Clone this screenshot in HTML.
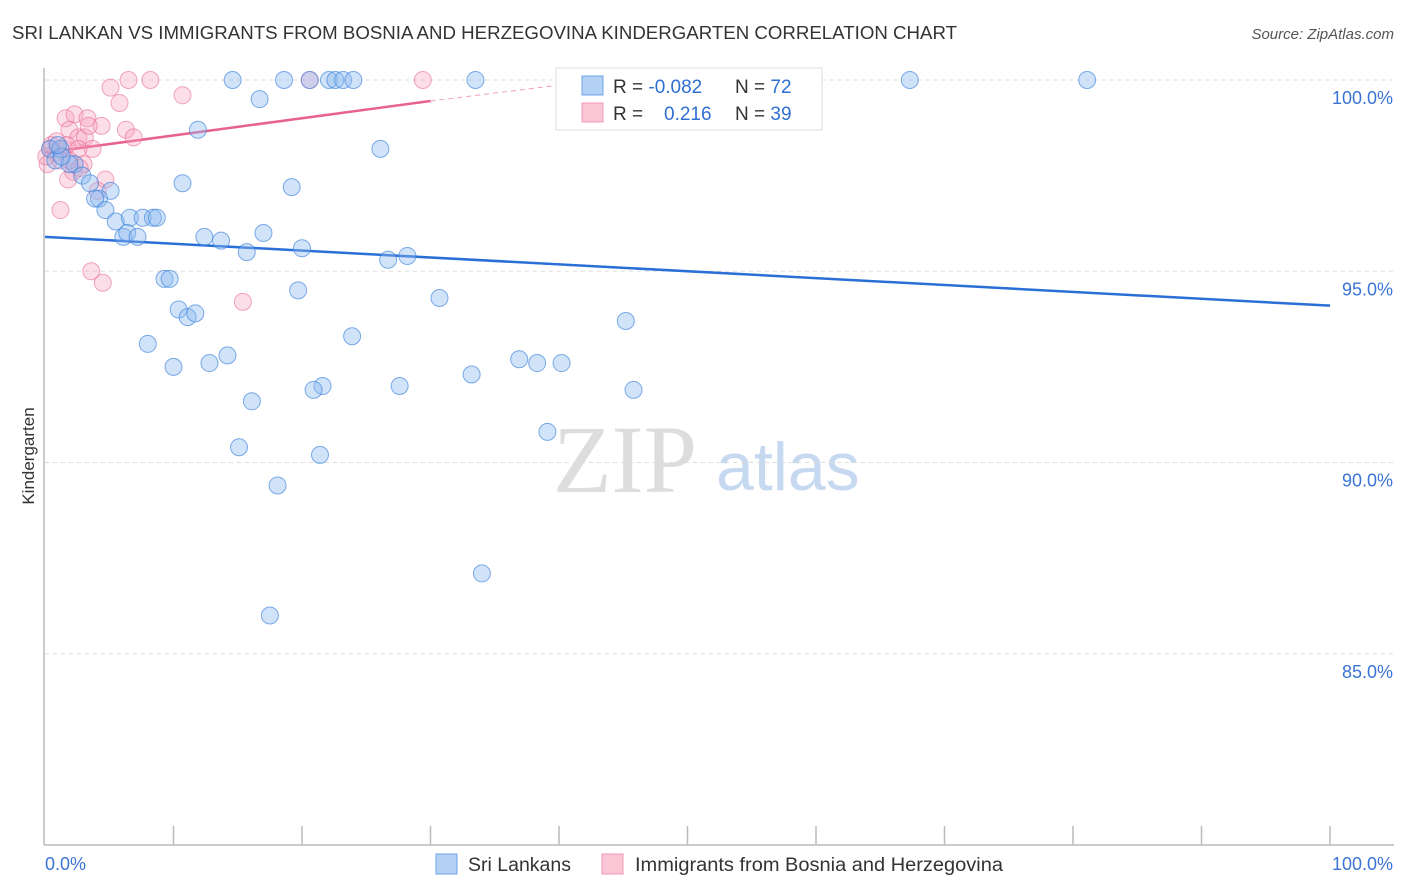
<!DOCTYPE html>
<html><head><meta charset="utf-8"><style>
body{margin:0;background:#fff;font-family:"Liberation Sans",sans-serif;}
svg{display:block}
</style></head><body>
<svg id="chart" width="1406" height="892" viewBox="0 0 1406 892">
<text x="12" y="39" font-size="18" fill="#333" textLength="945" lengthAdjust="spacingAndGlyphs">SRI LANKAN VS IMMIGRANTS FROM BOSNIA AND HERZEGOVINA KINDERGARTEN CORRELATION CHART</text>
<text x="1394" y="39" font-size="15" fill="#555" font-style="italic" text-anchor="end">Source: ZipAtlas.com</text>
<text x="34" y="456" font-size="17" fill="#333" text-anchor="middle" transform="rotate(-90 34 456)">Kindergarten</text>
<g>
<text x="553" y="492" font-size="96" font-family="Liberation Serif,serif" fill="#ddd">ZIP</text>
<text x="716" y="490" font-size="68" fill="#c7d9f0">atlas</text>
</g>
<g id="grid"></g>
<g id="axes"></g>
<g id="lines"></g>
<g id="points"></g>
<g>
<rect x="556" y="68" width="266" height="62" fill="#fff" stroke="#ddd"/>
<rect x="582" y="76" width="21" height="19" fill="#b3d1f5" stroke="#6ea3e6"/>
<rect x="582" y="103" width="21" height="19" fill="#fac6d6" stroke="#f09ab4"/>
<text x="613" y="93" font-size="19" fill="#333">R = <tspan fill="#2f6fd0">-0.082</tspan></text>
<text x="735" y="93" font-size="19" fill="#333">N = <tspan fill="#2f6fd0">72</tspan></text>
<text x="613" y="120" font-size="19" fill="#333">R = </text>
<text x="664" y="120" font-size="19" fill="#2f6fd0">0.216</text>
<text x="735" y="120" font-size="19" fill="#333">N = <tspan fill="#2f6fd0">39</tspan></text>
</g>
<g>
<rect x="436" y="854" width="21" height="20" fill="#b3d1f5" stroke="#6ea3e6"/>
<text x="468" y="871" font-size="19" fill="#333" textLength="103" lengthAdjust="spacingAndGlyphs">Sri Lankans</text>
<rect x="602" y="854" width="21" height="20" fill="#fac6d6" stroke="#f09ab4"/>
<text x="635" y="871" font-size="19" fill="#333" textLength="368" lengthAdjust="spacingAndGlyphs">Immigrants from Bosnia and Herzegovina</text>
</g>
</svg>
<script>
const yTicks=[100,95,90,85];
const yTickLabels=["100.0%","95.0%","90.0%","85.0%"];
const xTickLabels=["0.0%","100.0%"];
const blueX=[14.6,18.6,20.6,22.1,22.6,23.2,24.0,33.5,41.6,67.3,81.1,16.7,11.9,26.1,10.7,19.2,5.1,4.2,3.9,4.7,5.5,6.6,7.6,8.4,8.7,6.1,6.4,7.2,12.4,13.7,17.0,15.7,20.0,26.7,28.2,9.3,9.7,19.7,30.7,10.4,11.1,11.7,45.2,23.9,8.0,14.2,12.8,10.0,36.9,38.3,40.2,33.2,27.6,21.6,20.9,45.8,16.1,39.1,15.1,21.4,18.1,34.0,17.5,0.4,0.8,1.2,2.3,1.9,2.9,3.5,1.3,1.0];
const blueY=[100,100,100,100,100,100,100,100,100,100,100,99.5,98.7,98.2,97.3,97.2,97.1,96.9,96.9,96.6,96.3,96.4,96.4,96.4,96.4,95.9,96.0,95.9,95.9,95.8,96.0,95.5,95.6,95.3,95.4,94.8,94.8,94.5,94.3,94.0,93.8,93.9,93.7,93.3,93.1,92.8,92.6,92.5,92.7,92.6,92.6,92.3,92.0,92.0,91.9,91.9,91.6,90.8,90.4,90.2,89.4,87.1,86.0,98.2,97.9,98.2,97.8,97.8,97.5,97.3,98.0,98.3];
const pinkX=[6.5,8.2,20.6,29.4,5.1,10.7,5.8,1.6,2.3,3.3,4.4,1.9,6.3,2.6,3.1,6.9,3.7,0.4,0.8,0.2,1.2,3.0,2.2,1.8,4.7,4.1,1.2,3.6,4.5,15.4,0.5,0.9,1.5,0.1,1.7,2.6,3.4,1.9,2.7];
const pinkY=[100,100,100,100,99.8,99.6,99.4,99.0,99.1,99.0,98.8,98.7,98.7,98.5,98.5,98.5,98.2,98.2,98.1,97.8,97.9,97.8,97.6,97.4,97.4,97.1,96.6,95.0,94.7,94.2,98.3,98.4,98.2,98.0,98.3,98.2,98.8,97.9,97.7];
const blueTrend=[95.9,94.1];
const pinkTrend=[98.1,99.45,99.95];
const pinkTrendX=[0,30,42];

const NS="http://www.w3.org/2000/svg";
const X0=45,X1=1330,Y100=80,PX_PER=38.25;
function sx(v){return X0+(X1-X0)*v/100;}
function sy(v){return Y100+(100-v)*PX_PER;}
function mk(tag,attrs,parent){const e=document.createElementNS(NS,tag);for(const k in attrs)e.setAttribute(k,attrs[k]);parent.appendChild(e);return e;}
const grid=document.getElementById('grid'),axes=document.getElementById('axes'),lines=document.getElementById('lines'),pts=document.getElementById('points');
yTicks.forEach((t,i)=>{
  const l=mk('line',{x1:45,x2:1394,y1:sy(t),y2:sy(t),stroke:'#ddd','stroke-dasharray':'4,4'},grid);
  
  
  const tx=mk('text',{x:1393,y:sy(t)+24,'font-size':18,fill:'#3b74d4','text-anchor':'end'},grid);
  tx.textContent=yTickLabels[i];
  
  
});
const ya=mk('line',{x1:44,x2:44,y1:68,y2:845,stroke:'#bbb','stroke-width':1.5},axes);


const xa=mk('line',{x1:44,x2:1394,y1:845,y2:845,stroke:'#bbb','stroke-width':1.5},axes);


for(let i=1;i<=10;i++){
  const t=mk('line',{x1:sx(i*10),x2:sx(i*10),y1:826,y2:845,stroke:'#bbb','stroke-width':1.5},axes);
  
  
}
const xl0=mk('text',{x:45,y:870,'font-size':18,fill:'#3b74d4'},axes);
xl0.textContent=xTickLabels[0];


const xl1=mk('text',{x:1393,y:870,'font-size':18,fill:'#3b74d4','text-anchor':'end'},axes);
xl1.textContent=xTickLabels[1];



const bl=mk('line',{x1:sx(0),y1:sy(blueTrend[0]),x2:sx(100),y2:sy(blueTrend[1]),stroke:'#2a6fd6','stroke-width':2.5},lines);


const pl=mk('line',{x1:sx(pinkTrendX[0]),y1:sy(pinkTrend[0]),x2:sx(pinkTrendX[1]),y2:sy(pinkTrend[1]),stroke:'#e8628f','stroke-width':2.5},lines);


const pd=mk('line',{x1:sx(pinkTrendX[1]),y1:sy(pinkTrend[1]),x2:sx(pinkTrendX[2]),y2:sy(pinkTrend[2]),stroke:'#f0a0bb','stroke-width':1,'stroke-dasharray':'5,4'},lines);



pinkX.forEach((x,i)=>{
  const c=mk('circle',{cx:sx(x),cy:sy(pinkY[i]),r:8.5,fill:'rgba(246,160,190,0.35)',stroke:'rgba(232,110,150,0.6)','stroke-width':1},pts);
  
  
});
blueX.forEach((x,i)=>{
  const c=mk('circle',{cx:sx(x),cy:sy(blueY[i]),r:8.5,fill:'rgba(140,185,240,0.4)',stroke:'rgba(60,130,220,0.65)','stroke-width':1},pts);
  
  
});
</script>
</body></html>
